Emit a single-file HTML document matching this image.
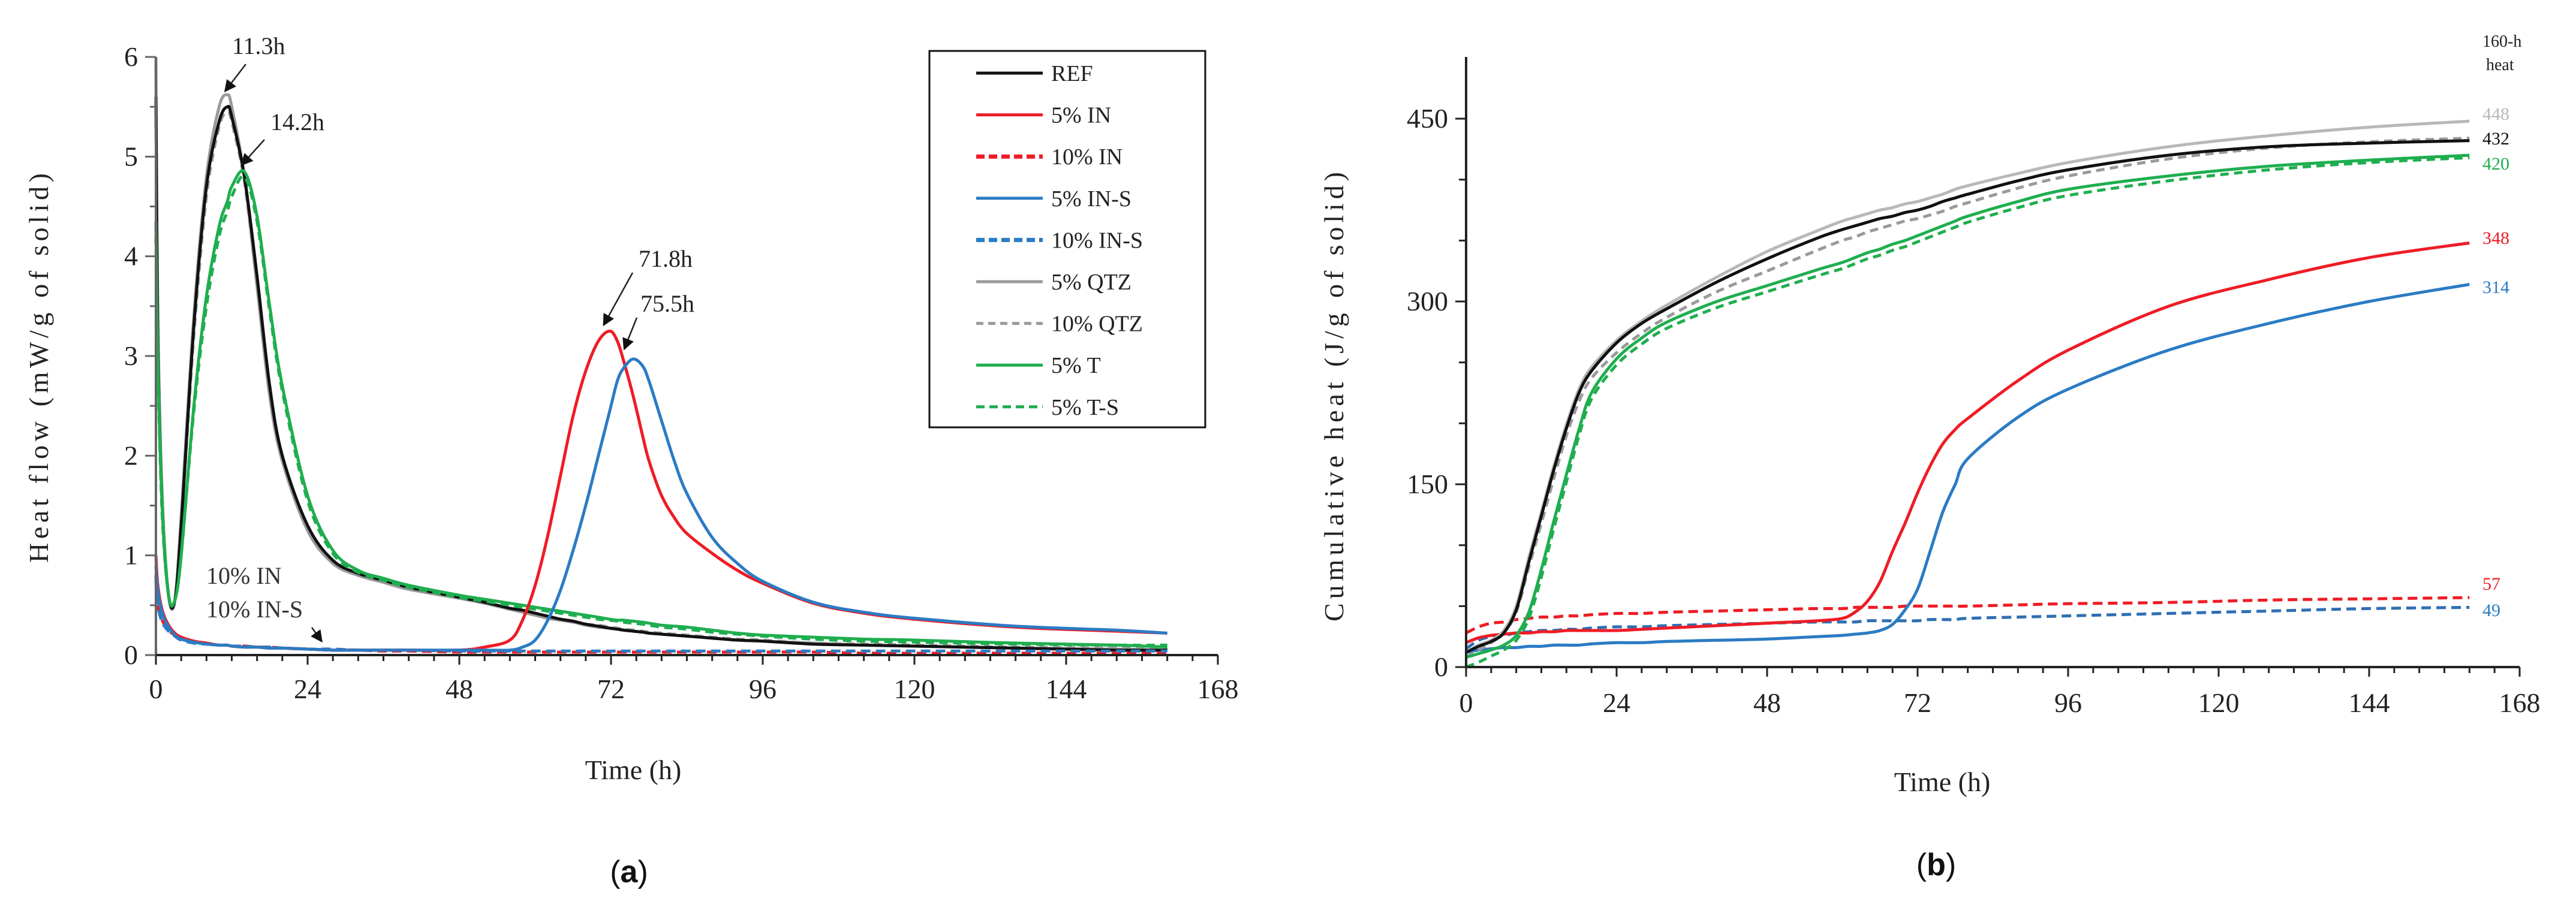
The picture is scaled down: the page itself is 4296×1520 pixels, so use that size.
<!DOCTYPE html>
<html><head><meta charset="utf-8"><style>
html,body{margin:0;padding:0;background:#fff;}
svg{display:block;font-family:"Liberation Serif",serif;}
</style></head><body>
<svg id="chart" width="4296" height="1520" viewBox="0 0 4296 1520" xmlns="http://www.w3.org/2000/svg">
<defs><marker id="arr" markerWidth="8" markerHeight="8" refX="6" refY="4" orient="auto" markerUnits="strokeWidth"><path d="M0,0 L8,4 L0,8 z" fill="#111"/></marker></defs>
<g id="left"></g>
<g id="right"></g>
</svg>
<script>
// ---------- Panel (a) data ----------
const tA = [0,0.3,1,2,3,4,6,8,10,11.3,12,14,16,18,20,24,28,32,36,40,48,52,56,58,60,62,64,66,68,70,71.8,73,74,75.5,77,78,80,82,84,88,92,96,104,112,120,136,152,160];
const refA  = [5.6,3.2,1.5,0.6,0.55,1.3,3.3,4.7,5.35,5.5,5.4,4.8,3.8,2.7,2.0,1.3,0.95,0.82,0.75,0.68,0.58,0.53,0.47,0.45,0.42,0.39,0.36,0.34,0.31,0.29,0.27,0.26,0.25,0.24,0.23,0.22,0.21,0.2,0.19,0.17,0.15,0.14,0.11,0.10,0.09,0.07,0.05,0.05];
const qtz5A = [6.0,3.4,1.6,0.6,0.55,1.4,3.4,4.8,5.5,5.62,5.5,4.8,3.7,2.6,1.95,1.25,0.92,0.8,0.73,0.66,0.57,0.52,0.46,0.43,0.4,0.37,0.35,0.33,0.3,0.28,0.27,0.26,0.25,0.24,0.23,0.22,0.21,0.2,0.19,0.17,0.15,0.14,0.12,0.10,0.09,0.07,0.06,0.05];
const qtz10A= [5.5,3.1,1.5,0.6,0.55,1.3,3.2,4.6,5.3,5.45,5.35,4.75,3.7,2.6,1.95,1.25,0.92,0.8,0.73,0.66,0.57,0.52,0.46,0.44,0.41,0.38,0.36,0.34,0.31,0.3,0.28,0.27,0.26,0.25,0.24,0.23,0.22,0.21,0.2,0.18,0.16,0.15,0.12,0.11,0.1,0.08,0.07,0.06];
const t5A   = [4.35,3.0,1.5,0.6,0.55,1.0,2.5,3.6,4.3,4.55,4.7,4.85,4.4,3.5,2.7,1.6,1.05,0.85,0.77,0.7,0.6,0.56,0.52,0.5,0.48,0.46,0.44,0.42,0.4,0.38,0.36,0.35,0.35,0.34,0.33,0.32,0.3,0.29,0.28,0.25,0.22,0.2,0.18,0.16,0.15,0.12,0.1,0.08];
const ts5A  = [4.2,2.9,1.4,0.6,0.55,1.0,2.45,3.5,4.2,4.45,4.6,4.8,4.35,3.45,2.65,1.55,1.02,0.83,0.75,0.68,0.58,0.54,0.5,0.48,0.46,0.44,0.42,0.4,0.38,0.36,0.35,0.34,0.33,0.32,0.31,0.3,0.28,0.27,0.26,0.23,0.21,0.19,0.16,0.14,0.13,0.11,0.1,0.1];
const in5A  = [1.0,0.7,0.45,0.3,0.22,0.18,0.14,0.12,0.1,0.1,0.09,0.08,0.08,0.07,0.07,0.06,0.05,0.05,0.05,0.05,0.05,0.08,0.15,0.35,0.7,1.2,1.8,2.4,2.85,3.15,3.25,3.15,2.95,2.6,2.2,1.95,1.6,1.38,1.22,1.02,0.85,0.72,0.52,0.42,0.36,0.28,0.24,0.22];
const ins5A = [0.9,0.65,0.42,0.28,0.2,0.16,0.13,0.11,0.1,0.1,0.09,0.08,0.08,0.07,0.07,0.06,0.05,0.05,0.05,0.05,0.05,0.05,0.05,0.08,0.15,0.35,0.65,1.05,1.5,2.0,2.45,2.75,2.88,2.97,2.9,2.75,2.35,1.95,1.62,1.18,0.92,0.74,0.53,0.43,0.37,0.29,0.25,0.22];
const in10A = [0.8,0.5,0.35,0.25,0.2,0.16,0.13,0.11,0.1,0.1,0.09,0.09,0.08,0.08,0.07,0.06,0.05,0.05,0.04,0.04,0.03,0.03,0.03,0.03,0.03,0.03,0.03,0.03,0.03,0.03,0.03,0.03,0.03,0.03,0.03,0.03,0.03,0.03,0.03,0.03,0.03,0.03,0.03,0.02,0.02,0.02,0.02,0.02];
const ins10A= [0.75,0.5,0.33,0.24,0.19,0.15,0.12,0.11,0.1,0.1,0.09,0.09,0.08,0.08,0.07,0.06,0.06,0.05,0.05,0.05,0.04,0.04,0.04,0.04,0.04,0.04,0.04,0.04,0.04,0.04,0.04,0.04,0.04,0.04,0.04,0.04,0.04,0.04,0.04,0.04,0.04,0.04,0.04,0.04,0.04,0.04,0.04,0.04];
const yTicksA = [0,1,2,3,4,5,6];
const xTicks = [0,24,48,72,96,120,144,168];
const legendLabels = ["REF","5% IN","10% IN","5% IN-S","10% IN-S","5% QTZ","10% QTZ","5% T","5% T-S"];

// ---------- Panel (b) data ----------
const tB = [0,2,4,6,8,10,12,14,16,18,20,24,28,32,40,48,56,60,62,64,66,68,70,72,74,76,78,80,88,96,112,128,144,160];
const qtz5B = [12,18,22,30,50,90,127,165,199,228,246,268,284,297,320,341,358,366,369,372,375,377,380,382,385,388,392,395,405,414,427,436,443,448];
const refB  = [12,17,21,28,47,86,124,162,196,225,243,266,282,294,316,335,352,359,362,365,368,370,373,375,378,382,385,388,399,408,420,427,430,432];
const qtz10B= [8,14,20,28,45,82,118,155,190,218,237,258,274,287,308,325,342,350,353,357,360,363,366,368,371,374,378,381,393,403,417,426,431,434];
const t5B   = [8,11,14,18,26,45,80,120,158,195,225,253,270,283,300,313,326,332,336,340,343,347,350,354,358,362,366,370,382,392,403,411,416,420];
const ts5B  = [0,4,9,14,22,40,74,114,152,190,220,248,265,278,295,308,321,327,331,335,338,342,345,349,353,357,361,365,377,387,399,408,414,418];
const in5B  = [20,24,26,27,28,28,29,29,30,30,30,30,31,32,34,36,38,40,45,54,70,95,118,143,165,183,195,204,235,260,296,318,336,348];
const ins5B = [12,14,15,16,16,17,17,18,18,18,19,20,20,21,22,23,25,26,27,28,30,35,47,64,95,127,150,171,205,228,260,282,300,314];
const in10B = [28,33,36,37,39,40,41,41,42,42,43,44,44,45,46,47,48,48,49,49,49,49,50,50,50,50,50,50,51,52,53,55,56,57];
const ins10B= [15,22,25,26,28,29,30,30,31,31,32,33,33,34,35,36,37,37,37,38,38,38,38,38,39,39,39,40,41,42,44,46,48,49];
const yTicksB = [0,150,300,450];
const endLabels = ["448","432","420","348","314","57","49"];

const NS="http://www.w3.org/2000/svg";
function mk(parent,tag,attrs,text){const e=document.createElementNS(NS,tag);for(const k in attrs)e.setAttribute(k,attrs[k]);if(text!==undefined)e.textContent=text;parent.appendChild(e);return e;}
function smoothPath(xs,ys){let d="M"+xs[0].toFixed(1)+","+ys[0].toFixed(1);for(let i=0;i<xs.length-1;i++){const x0=xs[Math.max(i-1,0)],y0=ys[Math.max(i-1,0)],x1=xs[i],y1=ys[i],x2=xs[i+1],y2=ys[i+1],x3=xs[Math.min(i+2,xs.length-1)],y3=ys[Math.min(i+2,ys.length-1)];const c1x=x1+(x2-x0)/6,c1y=y1+(y2-y0)/6,c2x=x2-(x3-x1)/6,c2y=y2-(y3-y1)/6;d+=" C"+c1x.toFixed(1)+","+c1y.toFixed(1)+" "+c2x.toFixed(1)+","+c2y.toFixed(1)+" "+x2.toFixed(1)+","+y2.toFixed(1);}return d;}

const RED="#ee1c25",BLUE="#2b7bc4",GREEN="#1fae4f",GRAY="#9a9a9a",LGRAY="#b8b8b8",BLACK="#111",DBLUE="#2f6fb3";

// ---------- Panel (a) ----------
const L=document.getElementById('left');
const ax0=260, ax1=2031, ay0=1093, ay1=95;
const xA=t=>ax0+(ax1-ax0)*t/168, yA=v=>ay0-(ay0-ay1)*v/6;
const seriesA=[
 {n:"qtz10",t:qtz10A,c:GRAY,d:"14 9"},{n:"qtz5",t:qtz5A,c:GRAY,d:""},{n:"ref",t:refA,c:BLACK,d:""},
 {n:"t5s",t:ts5A,c:GREEN,d:"14 9"},{n:"t5",t:t5A,c:GREEN,d:""},
 {n:"in10",t:in10A,c:RED,d:"16 9"},{n:"ins10",t:ins10A,c:BLUE,d:"16 9"},
 {n:"in5",t:in5A,c:RED,d:""},{n:"ins5",t:ins5A,c:BLUE,d:""}];
seriesA.forEach(s=>{const p=mk(L,'path',{d:smoothPath(tA.map(xA),s.t.map(yA)),fill:'none',stroke:s.c,'stroke-width':5,'stroke-dasharray':s.d||'none','stroke-linejoin':'round'});

});
let e=mk(L,'line',{x1:ax0,y1:ay1,x2:ax0,y2:ay0,stroke:'#666','stroke-width':4});


e=mk(L,'line',{x1:ax0,y1:ay0,x2:ax1,y2:ay0,stroke:'#222','stroke-width':4});


for(let h=0;h<=168;h+=4){mk(L,'line',{x1:xA(h),y1:ay0,x2:xA(h),y2:ay0+(h%24===0?16:10),stroke:'#222','stroke-width':3});}
for(let v=0;v<=6;v+=0.5){mk(L,'line',{x1:ax0-(v%1===0?18:10),y1:yA(v),x2:ax0,y2:yA(v),stroke:'#666','stroke-width':3});}
xTicks.forEach(h=>{const t=mk(L,'text',{x:xA(h),y:ay0+72,'font-size':46,'text-anchor':'middle',fill:'#222'},h);

});
yTicksA.forEach(v=>{const t=mk(L,'text',{x:ax0-30,y:yA(v)+15,'font-size':46,'text-anchor':'end',fill:'#222'},v);

});
e=mk(L,'text',{x:0,y:0,'font-size':46,'text-anchor':'middle',fill:'#222',transform:'translate(80,614) rotate(-90)',textLength:650,lengthAdjust:'spacing'},'Heat flow (mW/g of solid)');


e=mk(L,'text',{x:1056,y:1300,'font-size':46,'text-anchor':'middle',fill:'#222'},'Time (h)');


e=mk(L,'text',{x:1049,y:1472,'font-size':52,'text-anchor':'middle',fill:'#111','font-family':'Liberation Sans, sans-serif'});
e.innerHTML='(<tspan font-weight="bold">a</tspan>)';


const ann=[["11.3h",387,90,410,107,377,150],["14.2h",451,217,441,233,405,273],["71.8h",1065,445,1055,455,1008,540],["75.5h",1068,520,1062,530,1042,580]];
ann.forEach(a=>{const t=mk(L,'text',{x:a[1],y:a[2],'font-size':40,fill:'#222'},a[0]);


mk(L,'line',{x1:a[3],y1:a[4],x2:a[5],y2:a[6],stroke:'#222','stroke-width':2.5,'marker-end':'url(#arr)'});});
e=mk(L,'text',{x:344,y:974,'font-size':40,fill:'#333'},'10% IN');


e=mk(L,'text',{x:344,y:1030,'font-size':40,fill:'#333'},'10% IN-S');


mk(L,'line',{x1:520,y1:1047,x2:535,y2:1068,stroke:'#222','stroke-width':2.5,'marker-end':'url(#arr)'});
const lg=mk(L,'g',{});


mk(lg,'rect',{x:1550,y:85,width:460,height:628,fill:'#fff',stroke:'#111','stroke-width':3});
const legStyle=[[BLACK,""],[RED,""],[RED,"14 7"],[BLUE,""],[BLUE,"14 7"],[GRAY,""],[GRAY,"12 8"],[GREEN,""],[GREEN,"14 8"]];
legendLabels.forEach((lab,i)=>{const y=122+i*69.6;const g=mk(lg,'g',{});


mk(g,'line',{x1:1628,y1:y,x2:1739,y2:y,stroke:legStyle[i][0],'stroke-width':i===2||i===4?7:5,'stroke-dasharray':legStyle[i][1]||'none'});
mk(g,'text',{x:1753,y:y+13,'font-size':38,fill:'#222'},lab);});

// ---------- Panel (b) ----------
const R=document.getElementById('right');
const bx0=2445, bx1=4202, by0=1113, by1=198;
const xB=t=>bx0+(bx1-bx0)*t/168, yB=v=>by0-(by0-by1)*v/450;
const seriesB=[
 {n:"in10",t:in10B,c:RED,d:"16 9"},{n:"ins10",t:ins10B,c:DBLUE,d:"16 9"},
 {n:"in5",t:in5B,c:RED,d:""},{n:"ins5",t:ins5B,c:BLUE,d:""},
 {n:"qtz5",t:qtz5B,c:LGRAY,d:""},{n:"qtz10",t:qtz10B,c:GRAY,d:"14 9"},{n:"ref",t:refB,c:BLACK,d:""},
 {n:"t5",t:t5B,c:GREEN,d:""},{n:"t5s",t:ts5B,c:GREEN,d:"14 9"}];
seriesB.forEach(s=>{const p=mk(R,'path',{d:smoothPath(tB.map(xB),s.t.map(yB)),fill:'none',stroke:s.c,'stroke-width':5,'stroke-dasharray':s.d||'none','stroke-linejoin':'round'});

});
e=mk(R,'line',{x1:bx0,y1:95,x2:bx0,y2:by0,stroke:'#222','stroke-width':4});


e=mk(R,'line',{x1:bx0,y1:by0,x2:bx1,y2:by0,stroke:'#222','stroke-width':4});


for(let h=0;h<=168;h+=4){mk(R,'line',{x1:xB(h),y1:by0,x2:xB(h),y2:by0+(h%24===0?16:10),stroke:'#222','stroke-width':3});}
for(let v=0;v<=450;v+=50){mk(R,'line',{x1:bx0-(v%150===0?18:12),y1:yB(v),x2:bx0,y2:yB(v),stroke:'#222','stroke-width':3});}
xTicks.forEach(h=>{const t=mk(R,'text',{x:xB(h),y:by0+75,'font-size':46,'text-anchor':'middle',fill:'#222'},h);

});
yTicksB.forEach(v=>{const t=mk(R,'text',{x:bx0-30,y:yB(v)+15,'font-size':46,'text-anchor':'end',fill:'#222'},v);

});
e=mk(R,'text',{x:0,y:0,'font-size':46,'text-anchor':'middle',fill:'#222',transform:'translate(2240,662) rotate(-90)',textLength:750,lengthAdjust:'spacing'},'Cumulative heat (J/g of solid)');


e=mk(R,'text',{x:3239,y:1320,'font-size':46,'text-anchor':'middle',fill:'#222'},'Time (h)');


e=mk(R,'text',{x:3229,y:1460,'font-size':52,'text-anchor':'middle',fill:'#111','font-family':'Liberation Sans, sans-serif'});
e.innerHTML='(<tspan font-weight="bold">b</tspan>)';


e=mk(R,'text',{x:4140,y:78,'font-size':28,fill:'#222'},'160-h');


mk(R,'text',{x:4146,y:117,'font-size':28,fill:'#222'},'heat');
const endY=[190,231,273,397,479,974,1018];
const endC=[LGRAY,BLACK,GREEN,RED,BLUE,RED,BLUE];
endLabels.forEach((lab,i)=>{const t=mk(R,'text',{x:4140,y:endY[i]+10,'font-size':30,fill:endC[i]},lab);

});
</script>
</body></html>
